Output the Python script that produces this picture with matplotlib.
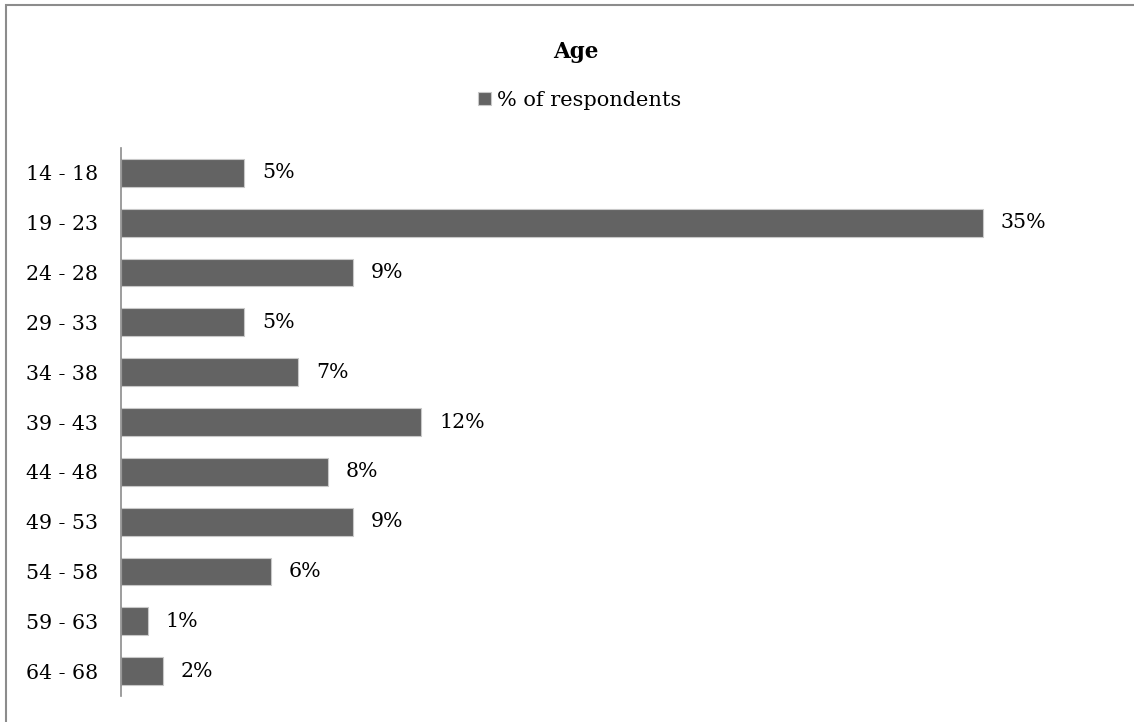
import matplotlib.pyplot as plt
from matplotlib.patches import Rectangle

# Age groups and share of respondents (%)
age_groups = ['14 - 18', '19 - 23', '24 - 28', '29 - 33', '34 - 38', '39 - 43',
              '44 - 48', '49 - 53', '54 - 58', '59 - 63', '64 - 68']
share = [5.0, 35.0, 9.4, 5.0, 7.2, 12.2, 8.4, 9.4, 6.1, 1.1, 1.7]
labels = ['5%', '35%', '9%', '5%', '7%', '12%', '8%', '9%', '6%', '1%', '2%']

plt.rcParams['font.family'] = ['DejaVu Serif']

W, H = 1134, 722
fig = plt.figure(figsize=(W / 100, H / 100), dpi=100)

# outer chart border
fig.patches.append(Rectangle((6 / W, -0.1), 1.2, (H - 5) / H + 0.1,
                             transform=fig.transFigure, fill=False,
                             edgecolor='#8c8c8c', linewidth=1.5))

# plot area in pixels: left 121, top 148, bottom 696
left, top, bottom = 121, 148, 696
xmax = 40
right = left + xmax * 24.63
ax = fig.add_axes([left / W, 1 - bottom / H, (right - left) / W, (bottom - top) / H])

y = range(len(age_groups))
bars = ax.barh(y, share, height=0.56, color='#636363', edgecolor='#c8c8c8',
               linewidth=0.8, label='% of respondents')
ax.set_ylim(len(age_groups) - 0.5, -0.5)
ax.set_xlim(0, xmax)
ax.set_yticks(list(y))
ax.set_yticklabels(age_groups, fontsize=14.8)
ax.tick_params(axis='y', length=0, pad=16.5)
ax.set_xticks([])

for s in ['top', 'right', 'bottom']:
    ax.spines[s].set_visible(False)
ax.spines['left'].set_color('#8c8c8c')
ax.spines['left'].set_linewidth(1.2)

for b, lab in zip(bars, labels):
    ax.text(b.get_width() + 0.72, b.get_y() + b.get_height() / 2, lab,
            va='center', ha='left', fontsize=14.8)

fig.text(576 / W, 1 - 52 / H, 'Age', ha='center', va='center',
         fontsize=15.5, fontweight='bold')
fig.legend(handles=[bars], labels=['% of respondents'], loc='center',
           bbox_to_anchor=(580 / W, 1 - 100 / H), frameon=False,
           fontsize=15, handlelength=0.6, handleheight=0.6, handletextpad=0.3)

fig.savefig('out.png', dpi=100)
